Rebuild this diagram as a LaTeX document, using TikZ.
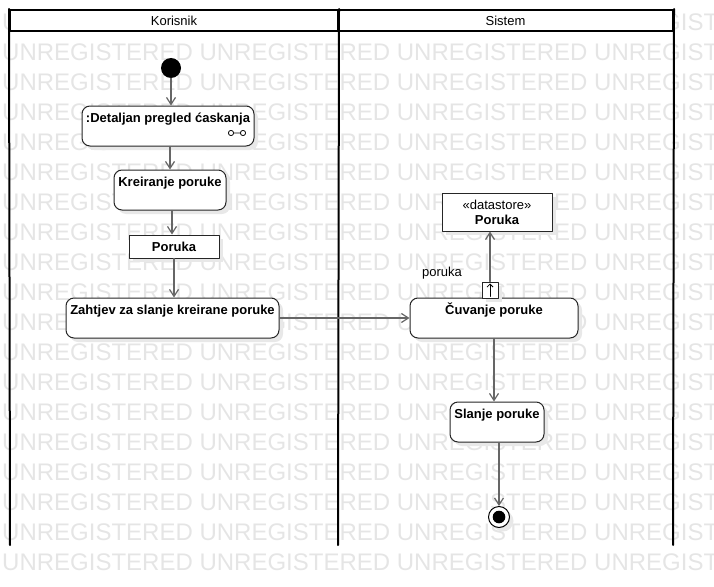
\documentclass[tikz,border=0pt]{standalone}
\usepackage{fontspec}
\setmainfont{Liberation Sans}
\usetikzlibrary{arrows.meta,shadows}
\begin{document}
\begin{tikzpicture}[x=1pt,y=-1pt,>={Straight Barb[length=7pt,width=9pt]}, font=\fontsize{13}{15}\selectfont, line join=round, line cap=round,
wm/.style={text=black!10, font=\fontsize{24}{24}\selectfont, inner sep=0pt, anchor=west},
lane/.style={draw, line width=2pt},
head/.style={lane, fill=white, minimum height=21pt, inner sep=0pt},
shade/.style={drop shadow={shadow xshift=4pt, shadow yshift=-4pt, fill=black!9, opacity=1}},
act/.style={draw=black!85, line width=1pt, fill=white, rounded corners=8pt, inner sep=0pt, text height=16.5pt, text depth=23.5pt, font=\fontsize{13}{15}\selectfont\bfseries, shade},
obj/.style={draw=black!85, line width=1pt, fill=white, inner sep=0pt, shade},
flow/.style={->, draw=black!60, line width=1.2pt}]
\useasboundingbox (0,0) rectangle (714,586);
\foreach \r in {0,...,18}
  \node[wm] (wm\r) at (2,22+30*\r) {UNREGISTERED UNREGISTERED UNREGISTERED UNREGISTERED};
\node[head, minimum width=328pt] (kor) at (174,20.5) {Korisnik};
\node[head, minimum width=335pt] (sis) at (505.5,20.5) {Sistem};
\draw[lane] (kor.north west) -- (10,545) (kor.north east) -- (338,545) (sis.north east) -- (673,545);
\node[circle, fill=black, minimum size=20pt, inner sep=0pt] (start) at (171,68) {};
\node[act, minimum width=172pt] (det) at (168,126) {:Detaljan pregled ćaskanja};
\draw[line width=.8pt] (231,133) circle (2.6pt) (233.6,133) -- (240.4,133) (243,133) circle (2.6pt);
\node[act, minimum width=112pt] (kre) at (170,190) {Kreiranje poruke};
\node[obj, minimum width=90pt, minimum height=23pt, font=\fontsize{13}{15}\selectfont\bfseries] (por) at (174,246.5) {Poruka};
\node[act, minimum width=213pt] (zah) at (172.5,318) {Zahtjev za slanje kreirane poruke};
\node[act, minimum width=168pt] (cuv) at (494,318) {Čuvanje poruke};
\node[obj, minimum size=16pt, shade] (pin) at (490,290) {};
\draw[-{Straight Barb[length=3pt,width=6pt]}, line width=.8pt] ([yshift=2pt]pin.south) -- ([yshift=-2pt]pin.north);
\node (pinlbl) at (442,273) {poruka};
\node[obj, minimum width=110pt, minimum height=38pt, align=center] (ds) at (497,212) {«datastore»\\\textbf{Poruka}};
\node[act, minimum width=94pt] (sla) at (497,422) {Slanje poruke};
\node[circle, draw, line width=1pt, fill=white, minimum size=21pt, inner sep=0pt, shade] (end) at (499,517) {};
\fill (end) circle (6.3pt);
\draw[flow] (start) -- (start |- det.north);
\draw[flow] (kre |- det.south) -- (kre.north);
\draw[flow] ([xshift=2pt]kre.south) -- ([xshift=2pt]kre.south |- por.north);
\draw[flow] (por) -- (por |- zah.north);
\draw[flow] (zah) -- (cuv);
\draw[flow] (pin) -- (pin |- ds.south);
\draw[flow] (cuv) -- (cuv |- sla.north);
\draw[flow] (end |- sla.south) -- (end);
\end{tikzpicture}
\end{document}
